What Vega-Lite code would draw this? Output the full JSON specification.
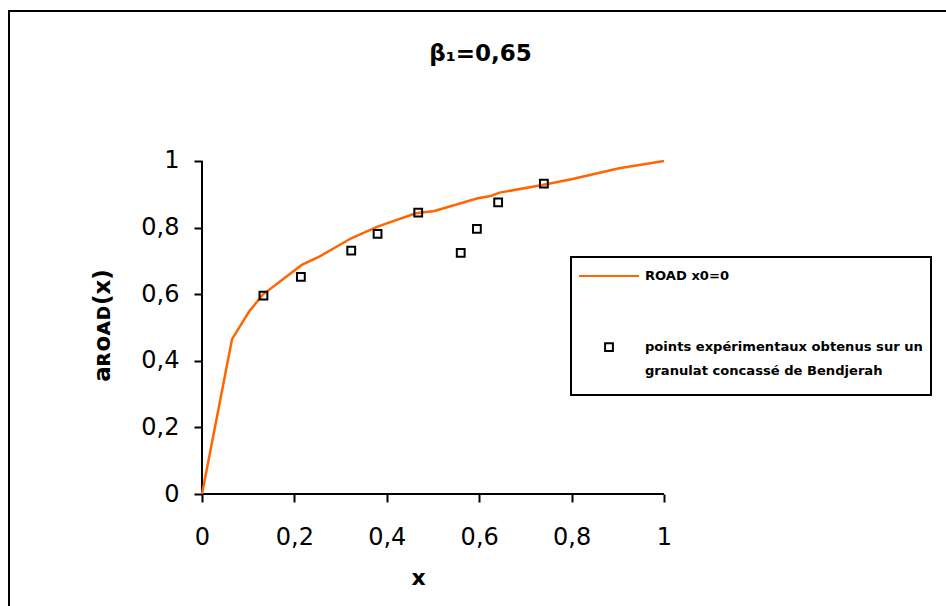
{
  "$schema": "https://vega.github.io/schema/vega-lite/v6.json",
  "width": 937,
  "height": 595,
  "autosize": {"type": "none"},
  "padding": {"left": 9, "top": 11, "right": 0, "bottom": 0},
  "background": "white",
  "title": {
    "text": "β₁=0,65",
    "font": "DejaVu Sans",
    "fontSize": 23,
    "fontWeight": "bold",
    "color": "black",
    "anchor": "middle",
    "frame": "group",
    "offset": -73,
    "baseline": "alphabetic",
    "dx": 3
  },
  "config": {
    "view": {"stroke": "black", "strokeWidth": 2, "strokeDash": [937, 1532, 595]},
    "legend": {"strokeWidth": 2}
  },
  "datasets": {
    "axes": [
      {"x": 0, "xe": 1, "y": 0, "ye": 0},
      {"x": 0, "xe": 0, "y": 0, "ye": 1}
    ],
    "curve": [
      {"x": 0, "y": 0},
      {"x": 0.065, "y": 0.465},
      {"x": 0.102, "y": 0.548},
      {"x": 0.131, "y": 0.598},
      {"x": 0.216, "y": 0.688},
      {"x": 0.254, "y": 0.713},
      {"x": 0.323, "y": 0.768},
      {"x": 0.38, "y": 0.803},
      {"x": 0.463, "y": 0.843},
      {"x": 0.503, "y": 0.85},
      {"x": 0.597, "y": 0.888},
      {"x": 0.625, "y": 0.895},
      {"x": 0.644, "y": 0.905},
      {"x": 0.737, "y": 0.928},
      {"x": 0.802, "y": 0.946},
      {"x": 0.903, "y": 0.978},
      {"x": 1.0, "y": 1.0}
    ],
    "pts": [
      {"x": 0.133, "y": 0.596, "series": "pts"},
      {"x": 0.214, "y": 0.652, "series": "pts"},
      {"x": 0.323, "y": 0.731, "series": "pts"},
      {"x": 0.38, "y": 0.781, "series": "pts"},
      {"x": 0.468, "y": 0.845, "series": "pts"},
      {"x": 0.56, "y": 0.724, "series": "pts"},
      {"x": 0.595, "y": 0.796, "series": "pts"},
      {"x": 0.641, "y": 0.876, "series": "pts"},
      {"x": 0.74, "y": 0.932, "series": "pts"}
    ]
  },
  "encoding": {
    "x": {
      "field": "x",
      "type": "quantitative",
      "scale": {"domain": [-0.417749, 1.61039], "nice": false, "zero": false},
      "axis": {
        "values": [0, 0.2, 0.4, 0.6, 0.8, 1],
        "format": "~g",
        "domain": false,
        "grid": false,
        "offset": -112,
        "tickSize": 8,
        "tickWidth": 2,
        "tickColor": "black",
        "labelFont": "DejaVu Sans",
        "labelFontSize": 24,
        "labelColor": "black",
        "labelPadding": 23,
        "labelFlush": false,
        "labelOverlap": false,
        "labelBound": false,
        "labelExpr": "replace(datum.label, '.', ',')",
        "title": "x",
        "titleFont": "DejaVu Sans",
        "titleFontSize": 22,
        "titleFontWeight": "bold",
        "titleColor": "black",
        "titleX": 409,
        "titleY": 83,
        "titleBaseline": "middle",
        "titleAlign": "center"
      }
    },
    "y": {
      "field": "y",
      "type": "quantitative",
      "scale": {"domain": [-0.336336, 1.45045], "nice": false, "zero": false},
      "axis": {
        "values": [0, 0.2, 0.4, 0.6, 0.8, 1],
        "format": "~g",
        "domain": false,
        "grid": false,
        "offset": -193,
        "tickSize": 8,
        "tickWidth": 2,
        "tickColor": "black",
        "labelFont": "DejaVu Sans",
        "labelFontSize": 24,
        "labelColor": "black",
        "labelPadding": 15,
        "labelFlush": false,
        "labelOverlap": false,
        "labelBound": false,
        "labelExpr": "replace(datum.label, '.', ',')",
        "title": "aʀᴏᴀᴅ(x)",
        "titleFont": "DejaVu Sans",
        "titleFontSize": 23,
        "titleFontWeight": "bold",
        "titleColor": "black",
        "titleAngle": -90,
        "titleX": -100,
        "titleY": 314,
        "titleBaseline": "middle",
        "titleAlign": "center"
      }
    }
  },
  "layer": [
    {
      "data": {"name": "axes"},
      "mark": {"type": "rule", "color": "black", "strokeWidth": 2},
      "encoding": {
        "x2": {"field": "xe"},
        "y2": {"field": "ye"}
      }
    },
    {
      "data": {"name": "curve"},
      "mark": {"type": "line", "color": "#ff6600", "strokeWidth": 2.5}
    },
    {
      "data": {"name": "pts"},
      "mark": {"type": "point", "filled": false, "strokeWidth": 2, "size": 400, "opacity": 1},
      "encoding": {
        "shape": {
          "field": "series",
          "type": "nominal",
          "scale": {"domain": ["ROAD x0=0", "b1", "b2", "pts", "pts2"], "range": ["M-3,0H3", "M0,0", "M0,0", "M-0.39,-0.39H0.39V0.39H-0.39Z", "M0,0"]},
          "legend": {
            "title": " ",
            "titleOrient": "bottom",
            "titleFontSize": 8,
            "titlePadding": 1,
            "orient": "none",
            "legendX": 562,
            "legendY": 246,
            "strokeColor": "black",
            "padding": 8,
            "symbolSize": 400,
            "symbolStrokeWidth": 2,
            "symbolOffset": 19,
            "labelOffset": 25,
            "labelFont": "DejaVu Sans",
            "labelFontSize": 13.1,
            "labelFontWeight": "bold",
            "labelColor": "black",
            "labelLimit": 500,
            "rowPadding": 4.7,
            "labelExpr": "datum.value == 'pts' ? 'points expérimentaux obtenus sur un' : datum.value == 'pts2' ? 'granulat concassé de Bendjerah' : datum.value == 'ROAD x0=0' ? 'ROAD x0=0' : ''",
            "encode": {
              "legend": {"update": {"strokeWidth": {"value": 2}}}
            }
          }
        },
        "color": {
          "field": "series",
          "type": "nominal",
          "scale": {"domain": ["ROAD x0=0", "b1", "b2", "pts", "pts2"], "range": ["#ff6600", "transparent", "transparent", "black", "transparent"]},
          "legend": {
            "title": " ",
            "titleOrient": "bottom",
            "titleFontSize": 8,
            "titlePadding": 1,
            "orient": "none",
            "legendX": 562,
            "legendY": 246,
            "strokeColor": "black",
            "padding": 8,
            "symbolSize": 400,
            "symbolStrokeWidth": 2,
            "symbolOffset": 19,
            "labelOffset": 25,
            "labelFont": "DejaVu Sans",
            "labelFontSize": 13.1,
            "labelFontWeight": "bold",
            "labelColor": "black",
            "labelLimit": 500,
            "rowPadding": 4.7,
            "labelExpr": "datum.value == 'pts' ? 'points expérimentaux obtenus sur un' : datum.value == 'pts2' ? 'granulat concassé de Bendjerah' : datum.value == 'ROAD x0=0' ? 'ROAD x0=0' : ''",
            "encode": {
              "legend": {"update": {"strokeWidth": {"value": 2}}}
            }
          }
        }
      }
    }
  ]
}
